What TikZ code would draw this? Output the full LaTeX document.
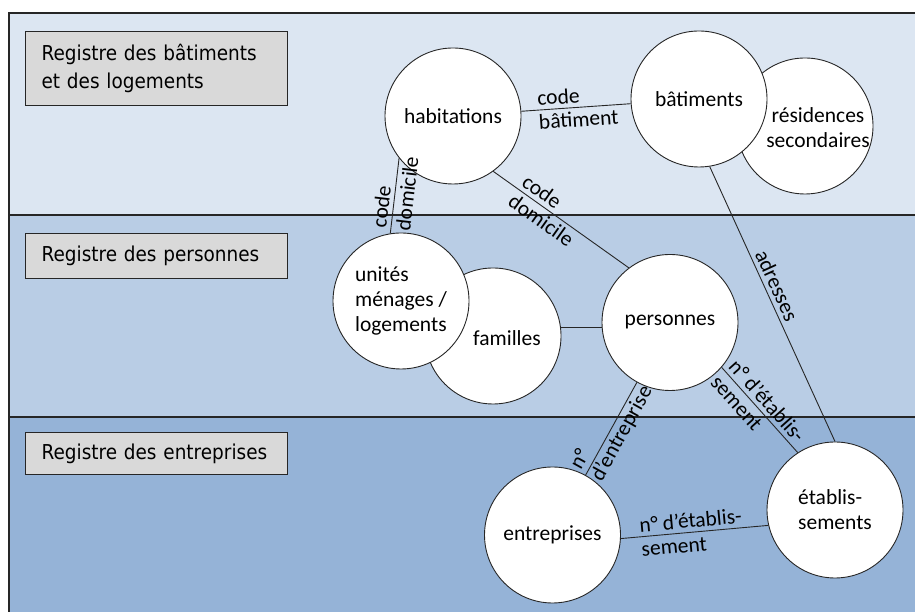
\documentclass[tikz,border=0pt]{standalone}
\usepackage{fontspec}
\setmainfont{Carlito}
\newfontfamily\boxfont[FakeStretch=0.9]{DejaVu Sans}
\definecolor{bandA}{HTML}{DCE6F2}
\definecolor{bandB}{HTML}{B9CDE5}
\definecolor{bandC}{HTML}{95B3D7}
\definecolor{boxgray}{HTML}{D9D9D9}
\definecolor{ink}{HTML}{262626}
\begin{document}
\begin{tikzpicture}[x=1pt,y=1pt,
  bandline/.style={draw=ink, line width=1.1pt},
  regbox/.style={draw=ink, line width=1.1pt, fill=boxgray, text width=230pt,
    inner xsep=16pt, inner ysep=0pt, align=left, anchor=north west,
    font=\boxfont\fontsize{20.5}{28}\selectfont},
  ent/.style={circle, draw=ink, line width=0.9pt, fill=white, minimum size=136pt,
    inner sep=0pt, align=center, font=\fontsize{21.5}{25}\selectfont},
  link/.style={draw=ink, line width=0.9pt},
  lab/.style={sloped, inner sep=0pt, align=left, font=\fontsize{21.5}{24}\selectfont}
]
\useasboundingbox (0,0) rectangle (915,612);
% bands
\fill[bandA] (9,397) rectangle (930,599);
\fill[bandB] (9,195) rectangle (930,397);
\fill[bandC] (9,-10) rectangle (930,195);
\draw[bandline] (930,599) -- (9,599) -- (9,-10);
\draw[bandline] (9,397) -- (930,397);
\draw[bandline] (9,195) -- (930,195);
% register labels
\node[regbox, minimum height=74pt] (rb1) at (25,581) {Registre des bâtiments\\et des logements};
\node[regbox, minimum height=45pt] (rb2) at (25,379) {Registre des personnes};
\node[regbox, minimum height=42pt] (rb3) at (25,180) {Registre des entreprises};
% entities
\node[ent] (habit) at (453,496) {habitations};
\node[ent, label={[align=center, font=\fontsize{21.5}{25}\selectfont, xshift=13pt, yshift=-2pt]center:résidences\\secondaires}] (res) at (805,486) {};
\node[ent] (bat) at (699,513) {bâtiments};
\node[ent, label={[font=\fontsize{21.5}{25}\selectfont, xshift=14pt, yshift=-2pt]center:familles}] (fam) at (493,276) {};
\node[ent, align=left] (unites) at (401,311) {unités\\ménages /\\logements};
\node[ent] (pers) at (670,289.5) {personnes};
\node[ent] (entr) at (552.5,77) {entreprises};
\node[ent, align=left] (etab) at (835,102) {établis-\\sements};
% links
\draw[link] (habit) -- node[lab, pos=0.15, anchor=west] {code\\bâtiment} (bat);
\draw[link] (unites.99) -- node[lab, pos=0.05, anchor=west] {code\\domicile} (habit.218);
\draw[link] (habit.-54) -- node[lab, pos=0.18, anchor=west] {code\\domicile} (pers.127);
\draw[link] (bat.-81) -- node[lab, pos=0.45, above=4pt] {adresses} (etab.90);
\draw[link] (fam.7) -- (fam.7 -| pers.west);
\draw[link] (entr) -- node[lab, pos=0.01, anchor=west] {n°\\d’entreprise} (pers);
\draw[link] (pers.-41) -- node[lab, pos=0.03, anchor=west] {n° d’établis-\\sement} (etab.123);
\draw[link] (entr.-3) -- node[lab, pos=0.13, anchor=west] {n° d’établis-\\sement} (etab.193);
\end{tikzpicture}
\end{document}
